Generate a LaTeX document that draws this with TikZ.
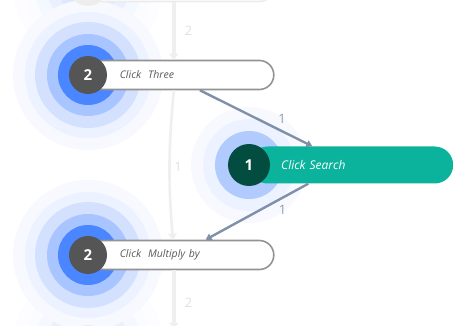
\documentclass[tikz,border=0pt]{standalone}
\usepackage{fontspec}
\setmainfont{Open Sans}
\usetikzlibrary{arrows.meta, positioning, calc}

\definecolor{ringA}{HTML}{4A86FF}
\definecolor{ringB}{HTML}{7CA7FF}
\definecolor{ringC}{HTML}{A9C5FF}
\definecolor{ringD}{HTML}{D3E1FF}
\definecolor{ringE}{HTML}{ECF2FF}
\definecolor{ringF}{HTML}{F7F9FF}
\definecolor{dotgray}{HTML}{555555}
\definecolor{dotteal}{HTML}{034D40}
\definecolor{pillteal}{HTML}{0BB39C}
\definecolor{flowgray}{HTML}{8090A8}
\definecolor{fadegray}{HTML}{EFEFEF}

\begin{document}
\begin{tikzpicture}[
    x=1pt, y=-1pt,
    every node/.style={font=\small},
    pillbox/.style={
        rectangle, draw=gray!85, line width=1.6pt,
        rounded corners=14.5pt, fill=white,
        minimum height=29pt, text width=123pt,
        inner xsep=31pt, inner ysep=0pt,
        align=left, anchor=west,
        font=\fontsize{10.5}{12}\selectfont\itshape, text=black!65
    },
    activepill/.style={
        rectangle, fill=pillteal,
        rounded corners=18.5pt,
        minimum height=37pt, text width=140pt,
        inner xsep=32pt, inner ysep=0pt,
        align=left, anchor=west,
        font=\fontsize{12}{14}\selectfont\itshape, text=white
    },
    numdot/.style={
        circle, fill=dotgray, minimum size=38pt, inner sep=0pt,
        font=\fontsize{15}{18}\selectfont\bfseries, text=white
    },
    flowarrow/.style={-{Triangle[width=7pt, length=6pt]}, line width=2.4pt, flowgray},
    fadearrow/.style={-{Triangle[width=9pt, length=6pt]}, line width=3.5pt, fadegray},
    flowlabel/.style={font=\fontsize{13}{15}\selectfont, text=flowgray!90},
    fadelabel/.style={font=\fontsize{13}{15}\selectfont, text=black!12}
]

\useasboundingbox (0,0) rectangle (453,326);

% Step centres
\coordinate (c-top) at (88,-13);
\coordinate (c-three) at (88,75);
\coordinate (c-search) at (249,165);
\coordinate (c-multiply) at (88,255);
\coordinate (c-bottom) at (88,344);

% Halos
\foreach \r/\c in {75/ringF, 63/ringE, 53/ringD, 41/ringC, 30/ringB} {
    \fill[\c!25] (c-top) circle (\r);
    \fill[\c!25] (c-bottom) circle (\r);
}
\foreach \r/\c in {75/ringF, 63/ringE, 53/ringD, 41/ringC, 30/ringA} {
    \fill[\c] (c-three) circle (\r);
    \fill[\c] (c-multiply) circle (\r);
}
\foreach \r/\c in {58/ringF, 46/ringE, 34/ringC!90} {
    \fill[\c] (c-search) circle (\r);
}

% Steps
\node[pillbox, draw=gray!15] (top) at (c-top) {};
\node[numdot, fill=black!7] (d-top) at (c-top) {};

\node[pillbox] (three) at (c-three) {Click~ Three};
\node[numdot] (d-three) at (c-three) {2};

\node[activepill] (search) at (c-search) {Click Search};
\node[numdot, fill=dotteal, minimum size=42pt] (d-search) at (c-search) {1};

\node[pillbox] (multiply) at (c-multiply) {Click~ Multiply by};
\node[numdot] (d-multiply) at (c-multiply) {2};

\node[pillbox, draw=gray!15] (bottom) at (c-bottom) {};
\node[numdot, fill=black!7] (d-bottom) at (c-bottom) {};

% Faded connectors
\draw[fadearrow] ($(top.south west)!0.46!(top.south east)$) -- ($(three.north west)!0.46!(three.north east)$)
    node[midway, right=6pt, fadelabel] {2};
\draw[fadearrow, line width=2.6pt] ($(three.south west)!0.46!(three.south east)$) to[bend right=5] ($(multiply.north west)!0.455!(multiply.north east)$);
\node[fadelabel] (l-skip) at (178,167) {1};
\draw[fadearrow] ($(multiply.south west)!0.46!(multiply.south east)$) -- ($(bottom.north west)!0.46!(bottom.north east)$)
    node[pos=0.55, right=6pt, fadelabel] {2};

% Active connectors
\draw[flowarrow] ($(three.south west)!0.6!(three.south east)$) -- ($(search.north west)!0.31!(search.north east)$)
    node[pos=0.73, above=3pt, flowlabel] {1};
\draw[flowarrow] ($(search.south west)!0.29!(search.south east)$) -- ($(multiply.north west)!0.63!(multiply.north east)$)
    node[pos=0.25, below=3pt, flowlabel] {1};

\end{tikzpicture}
\end{document}
